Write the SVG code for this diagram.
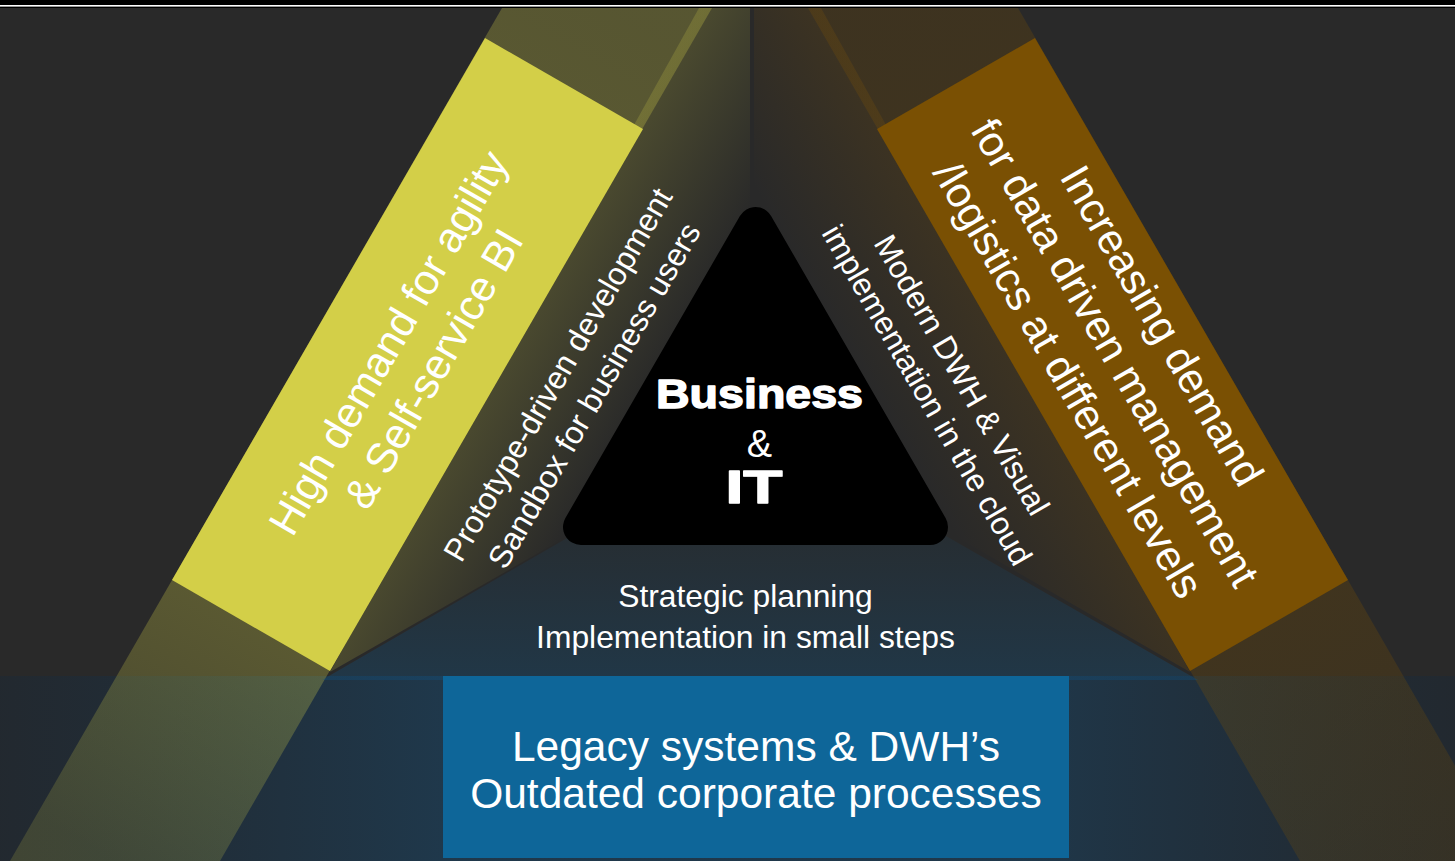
<svg xmlns="http://www.w3.org/2000/svg" width="1455" height="861" viewBox="0 0 1455 861">
<defs>
<style>
.t{font-family:"Liberation Sans",Arial,sans-serif;fill:#ffffff;text-anchor:middle}
.big{font-size:42.5px}
.mid{font-size:31.8px}
.heavy{font-weight:bold;stroke:#ffffff;stroke-width:1.4px;stroke-linejoin:round}
</style>
<linearGradient id="gBandL" gradientUnits="userSpaceOnUse" x1="607" y1="8" x2="115" y2="861">
<stop offset="0" stop-color="#D3CF48" stop-opacity="0.27"/>
<stop offset="0.6" stop-color="#D3CF48" stop-opacity="0.34"/>
<stop offset="1" stop-color="#D3CF48" stop-opacity="0.17"/>
</linearGradient>
<linearGradient id="gBandR" gradientUnits="userSpaceOnUse" x1="913" y1="8" x2="1405" y2="861">
<stop offset="0" stop-color="#7A5003" stop-opacity="0.25"/>
<stop offset="0.6" stop-color="#7A5003" stop-opacity="0.31"/>
<stop offset="1" stop-color="#7A5003" stop-opacity="0.22"/>
</linearGradient>
<linearGradient id="gFanL" gradientUnits="userSpaceOnUse" x1="532.6" y1="307.5" x2="655.6" y2="378.5">
<stop offset="0" stop-color="#D3CF48" stop-opacity="0.2"/>
<stop offset="1" stop-color="#D3CF48" stop-opacity="0"/>
</linearGradient>
<linearGradient id="gFanR" gradientUnits="userSpaceOnUse" x1="987.4" y1="307.5" x2="864.4" y2="378.5">
<stop offset="0" stop-color="#8A5A05" stop-opacity="0.2"/>
<stop offset="1" stop-color="#8A5A05" stop-opacity="0"/>
</linearGradient>
<linearGradient id="gFanB" gradientUnits="userSpaceOnUse" x1="0" y1="470" x2="0" y2="680">
<stop offset="0" stop-color="#0F5587" stop-opacity="0"/>
<stop offset="1" stop-color="#0F5587" stop-opacity="0.32"/>
</linearGradient>
<linearGradient id="gBandB" gradientUnits="userSpaceOnUse" x1="0" y1="0" x2="1455" y2="0">
<stop offset="0" stop-color="#0A2846" stop-opacity="0.22"/>
<stop offset="0.3" stop-color="#0F5082" stop-opacity="0.38"/>
<stop offset="0.7" stop-color="#0F5082" stop-opacity="0.38"/>
<stop offset="1" stop-color="#0A2846" stop-opacity="0.22"/>
</linearGradient>
</defs>

<g id="background">
<rect x="0" y="0" width="1455" height="861" fill="#292929"/>
</g>

<g id="band-bottom">
<rect x="0" y="676" width="1455" height="185" fill="url(#gBandB)"/>
</g>

<g id="band-left">
<polygon points="502,8 712,8 220,861 10,861" fill="url(#gBandL)"/>
</g>

<g id="band-right">
<polygon points="1018,8 808,8 1300,861 1510,861" fill="url(#gBandR)"/>
</g>

<g id="fan-left">
<polygon points="330,672 699,8 750,8 750,432" fill="url(#gFanL)"/>
</g>

<g id="fan-right">
<polygon points="1190,672 821,8 754,8 754,420" fill="url(#gFanR)"/>
</g>

<g id="fan-bottom">
<polygon points="322,680 757,428 1198,680" fill="url(#gFanB)"/>
</g>

<g id="top-bar">
<rect x="0" y="0" width="1455" height="8" fill="#000000"/>
<rect x="0" y="5" width="1455" height="1.6" fill="#ffffff"/>
</g>

<g id="node-agility">
<polygon points="485,38 643,129 330,671 172,580" fill="#D3CF48"/>
<g transform="translate(408,354) rotate(-60)">
<text class="t big" x="0" y="-8">High demand for agility</text>
<text class="t big" x="0" y="44">&amp; Self-service BI</text>
</g>
</g>

<g id="node-data">
<polygon points="1035,38 877,129 1190,671 1348,580" fill="#7A5003"/>
<g transform="translate(1113,354) rotate(60)">
<text class="t big" x="0" y="-42">Increasing demand</text>
<text class="t big" x="0" y="12">for data driven management</text>
<text class="t big" x="0" y="66">/logistics at different levels</text>
</g>
</g>

<g id="node-legacy">
<rect x="443" y="676" width="626" height="182" fill="#0E6699"/>
<text class="t big" x="756" y="761">Legacy systems &amp; DWH’s</text>
<text class="t big" x="756" y="808">Outdated corporate processes</text>
</g>

<g id="node-center">
<polygon points="755.5,225 581,527 930,527" fill="#000000" stroke="#000000" stroke-width="36" stroke-linejoin="round"/>
<text class="t heavy" x="759.5" y="408" font-size="41" textLength="207" lengthAdjust="spacingAndGlyphs">Business</text>
<text class="t" x="759.5" y="457" font-size="38">&amp;</text>
<text class="t heavy" x="754" y="503" font-size="46" textLength="57" lengthAdjust="spacingAndGlyphs">IT</text>
</g>

<g id="label-left">
<g transform="translate(576,385) rotate(-60)">
<text class="t mid" x="0" y="-10">Prototype-driven development</text>
<text class="t mid" x="0" y="32">Sandbox for business users</text>
</g>
</g>

<g id="label-right">
<g transform="translate(944.5,385) rotate(60)">
<text class="t mid" x="0" y="-9">Modern DWH &amp; Visual</text>
<text class="t mid" x="0" y="31">implementation in the cloud</text>
</g>
</g>

<g id="label-bottom">
<text class="t mid" x="745.5" y="607">Strategic planning</text>
<text class="t mid" x="745.5" y="648">Implementation in small steps</text>
</g>

<g id="connectors"></g>
</svg>
